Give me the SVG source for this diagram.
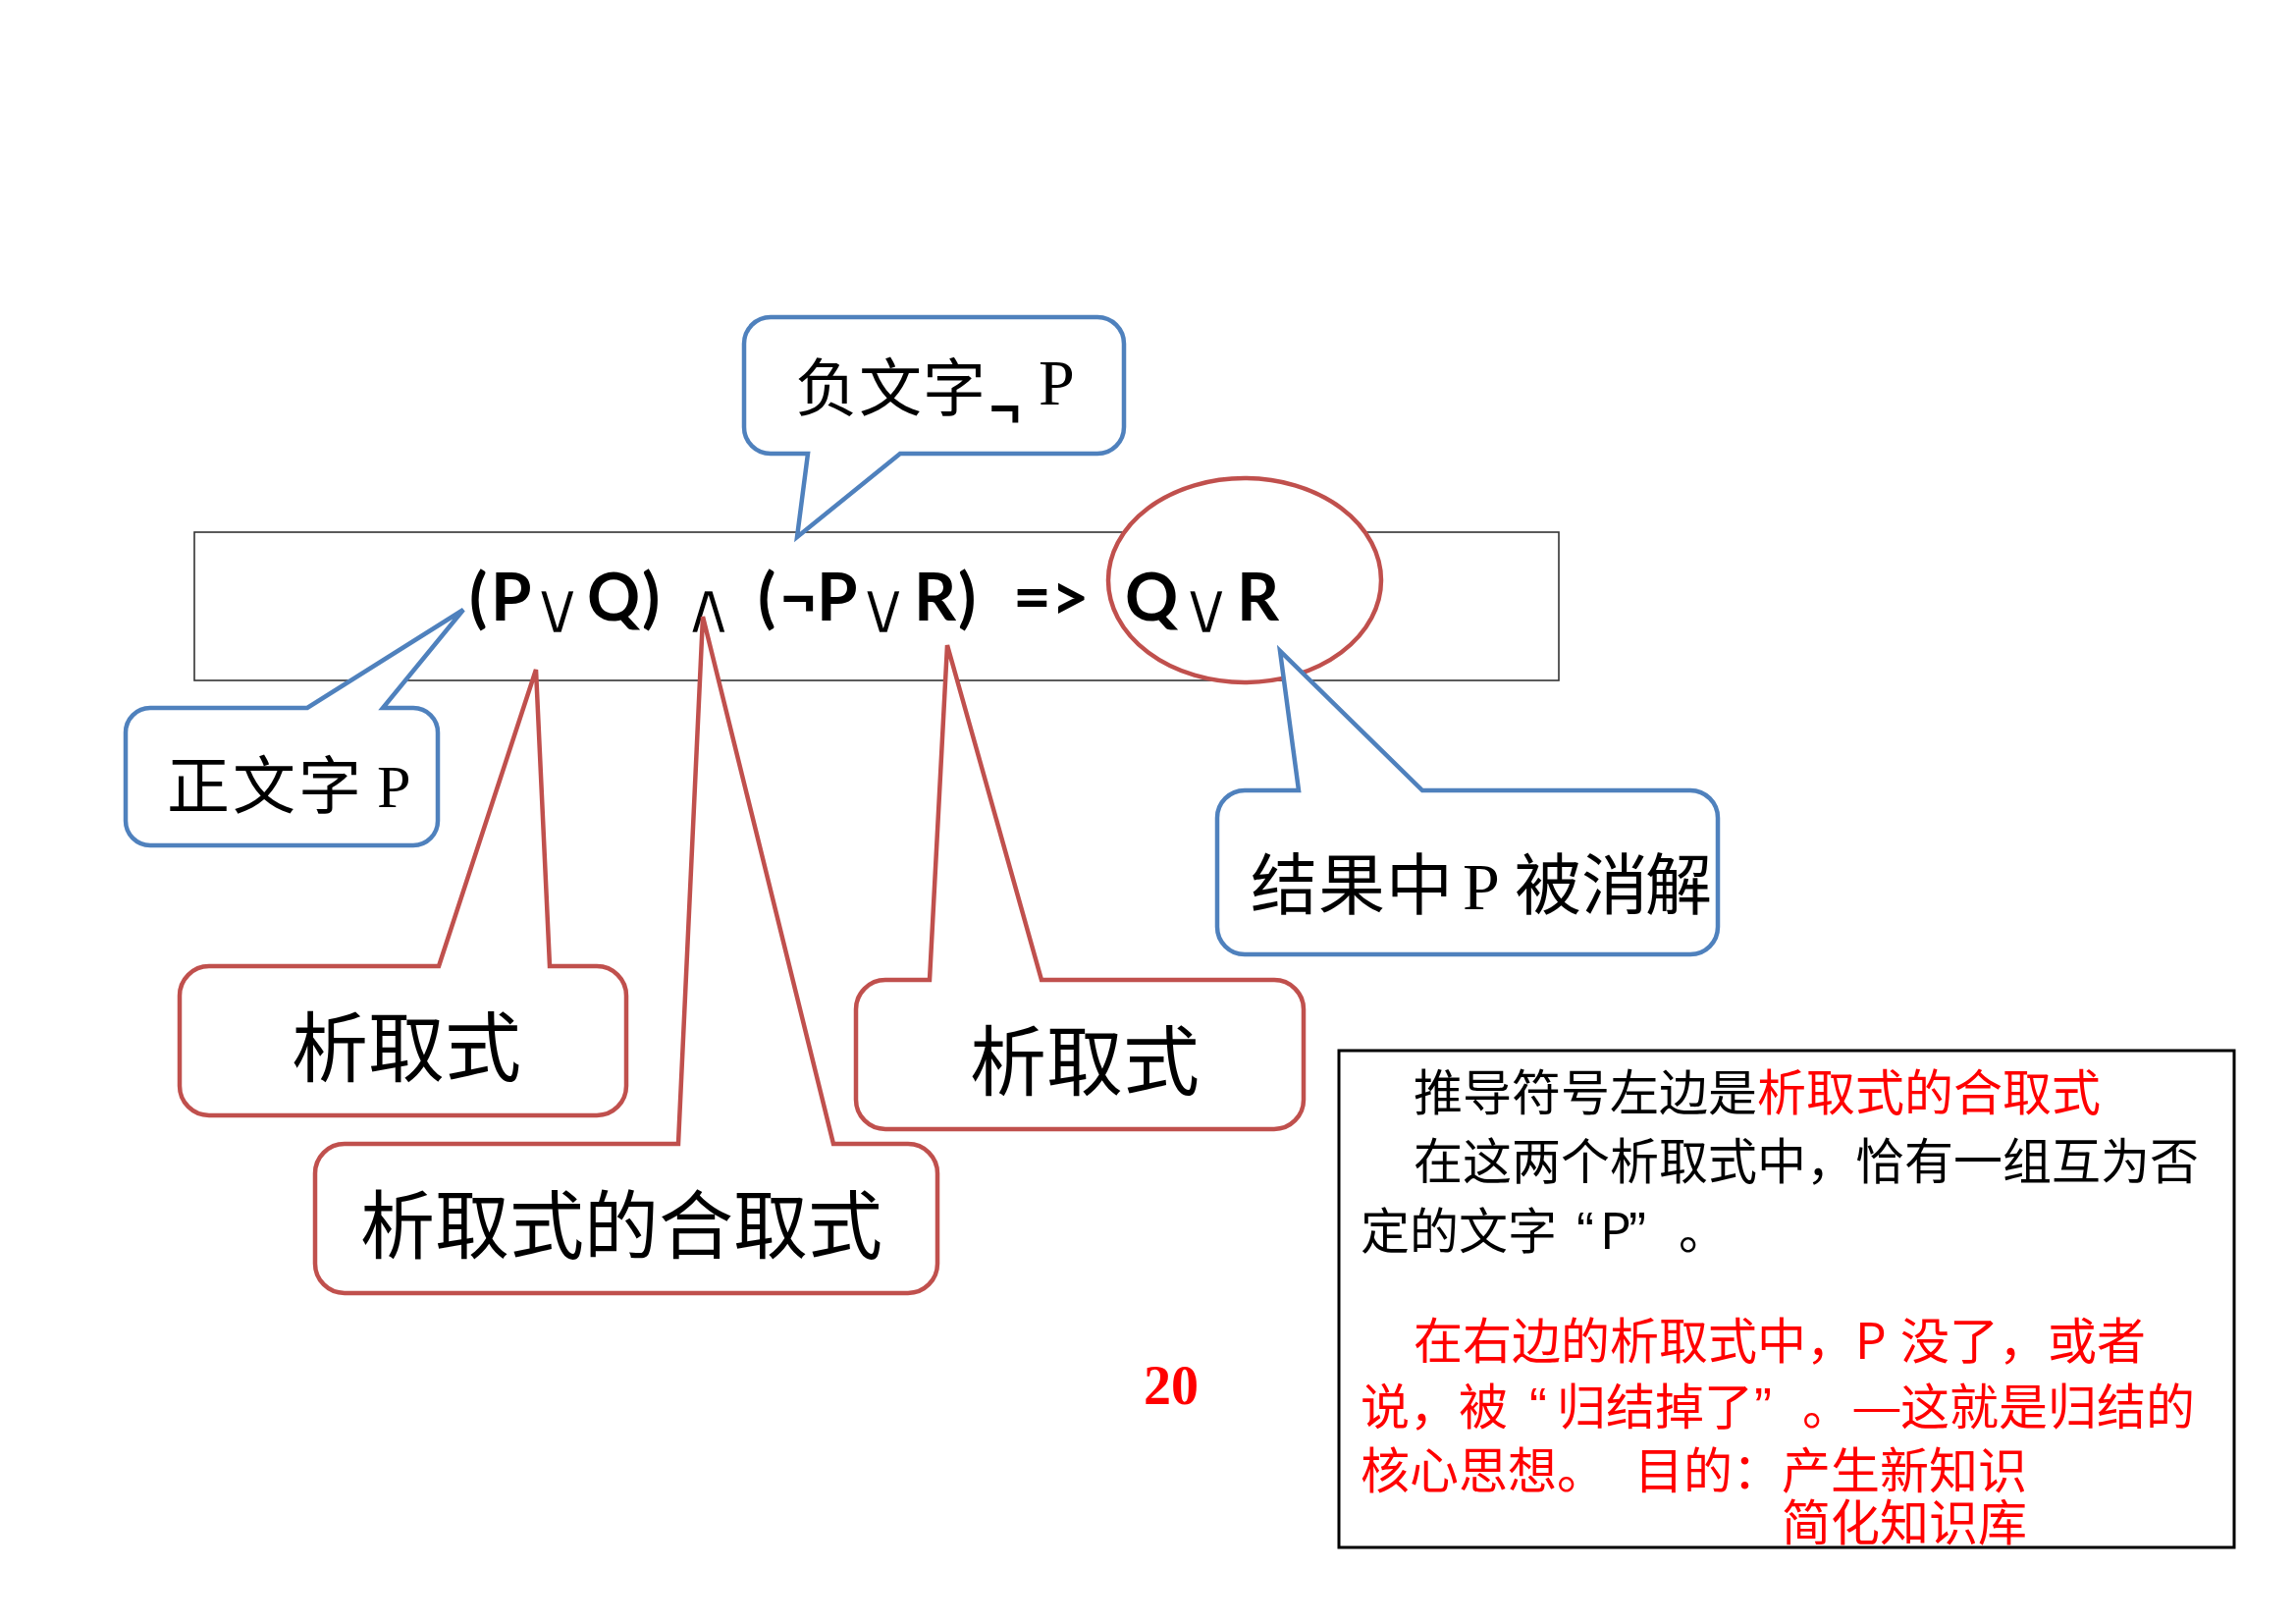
<svg xmlns="http://www.w3.org/2000/svg" width="2339" height="1654" viewBox="0 0 2339 1654">
<style>
.bg{fill:#ffffff}
.frame{fill:none;stroke:#333333;stroke-width:1.6}
.blue{fill:#ffffff;stroke:#4F81BD;stroke-width:4.5;stroke-linejoin:miter}
.red{fill:#ffffff;stroke:#C0504D;stroke-width:4.5;stroke-linejoin:miter}
.formula{font-family:Lato,"Open Sans","Liberation Sans",sans-serif;font-weight:700;font-size:67px;fill:#000}
.op{font-family:"DejaVu Sans",sans-serif;font-weight:normal;font-size:76px;fill:#000;stroke:#ffffff;stroke-width:2.4}
.lbl{font-family:"Liberation Serif","Noto Sans CJK SC",serif;fill:#000}
.cjk{font-family:"Noto Sans CJK SC","Liberation Sans",sans-serif}
.note{font-family:"Noto Sans CJK SC","Liberation Sans",sans-serif;font-size:50px;fill:#000}
.q{font-family:"Liberation Sans",sans-serif}
.r{fill:#FF0000}
.num{font-family:"Liberation Serif",serif;font-weight:700;font-size:56px;fill:#FF0000}
</style>
<rect class="bg" x="0" y="0" width="2339" height="1654"/>

<g id="formula-box">
<rect class="frame" x="198" y="542" width="1390" height="151"/>
</g>

<g id="resolvent-ellipse">
<ellipse cx="1268" cy="591" rx="139" ry="104" fill="#ffffff" stroke="#C0504D" stroke-width="4.5"/>
</g>

<g id="formula">
<text class="formula" y="632"><tspan x="478">(</tspan><tspan x="500">P</tspan><tspan x="598">Q</tspan><tspan x="654">)</tspan><tspan x="772">(</tspan><tspan x="794">¬</tspan><tspan x="832">P</tspan><tspan x="931">R</tspan><tspan x="976">)</tspan><tspan x="1032">=&gt;</tspan><tspan x="1146">Q</tspan><tspan x="1260">R</tspan></text>
<text class="op" y="645"><tspan x="540">∨</tspan><tspan x="694">∧</tspan><tspan x="872">∨</tspan><tspan x="1201">∨</tspan></text>
</g>

<g id="connectors">
</g>

<g id="callout-negative-literal">
<path class="blue" d="M785,323 H1118 A27,27 0 0 1 1145,350 V435 A27,27 0 0 1 1118,462 H917 L812,547 L823,462 H785 A27,27 0 0 1 758,435 V350 A27,27 0 0 1 785,323 Z"/>
<text class="lbl" font-size="64"><tspan class="cjk" x="810 875 940" y="418">负文字</tspan><tspan class="q" font-weight="700" font-size="54" x="1008" y="434">¬</tspan><tspan font-size="66" x="1058" y="412">P</tspan></text>
</g>

<g id="callout-positive-literal">
<path class="blue" d="M153,721 H313 L472,621 L390,721 H421 A25,25 0 0 1 446,746 V836 A25,25 0 0 1 421,861 H153 A25,25 0 0 1 128,836 V746 A25,25 0 0 1 153,721 Z"/>
<text class="lbl" font-size="64"><tspan class="cjk" x="170 237 304" y="823">正文字</tspan><tspan font-size="62" x="384" y="822">P</tspan></text>
</g>

<g id="callout-clause-left">
<path class="red" d="M213,984 H447 L546,682 L560,984 H608 A30,30 0 0 1 638,1014 V1106 A30,30 0 0 1 608,1136 H213 A30,30 0 0 1 183,1106 V1014 A30,30 0 0 1 213,984 Z"/>
<text class="lbl cjk" font-size="78" x="297 375 453" y="1096">析取式</text>
</g>

<g id="callout-conjunction">
<path class="red" d="M351,1165 H691 L716,628 L849,1165 H925 A30,30 0 0 1 955,1195 V1287 A30,30 0 0 1 925,1317 H351 A30,30 0 0 1 321,1287 V1195 A30,30 0 0 1 351,1165 Z"/>
<text class="lbl cjk" font-size="76" x="367 443 519 595 671 747 823" y="1276">析取式的合取式</text>
</g>

<g id="callout-clause-right">
<path class="red" d="M902,998 H947 L965,657 L1061,998 H1298 A30,30 0 0 1 1328,1028 V1120 A30,30 0 0 1 1298,1150 H902 A30,30 0 0 1 872,1120 V1028 A30,30 0 0 1 902,998 Z"/>
<text class="lbl cjk" font-size="78" x="988 1066 1144" y="1110">析取式</text>
</g>

<g id="callout-resolved">
<path class="blue" d="M1268,805 H1323 L1304,663 L1449,805 H1722 A28,28 0 0 1 1750,833 V944 A28,28 0 0 1 1722,972 H1268 A28,28 0 0 1 1240,944 V833 A28,28 0 0 1 1268,805 Z"/>
<text class="lbl" font-size="68"><tspan class="cjk" x="1274 1343 1412" y="926">结果中</tspan><tspan x="1490" y="926">P</tspan><tspan class="cjk" x="1543 1611 1676" y="926">被消解</tspan></text>
</g>

<g id="page-number">
<text class="num" x="1165" y="1430">20</text>
</g>

<g id="explanation">
<rect x="1364" y="1070" width="912" height="506" fill="none" stroke="#000" stroke-width="3"/>
<text class="note" y="1131"><tspan x="1440 1490 1540 1590 1640 1690 1740">推导符号左边是</tspan><tspan class="r" x="1790 1840 1890 1940 1990 2040 2090">析取式的合取式</tspan></text>
<text class="note" y="1201" x="1440 1490 1540 1590 1640 1690 1740 1790 1840 1890 1940 1990 2040 2090 2140 2190">在这两个析取式中，恰有一组互为否</text>
<text class="note" y="1272"><tspan x="1386 1436 1486 1536">定的文字</tspan><tspan class="q" font-size="54" x="1606">“</tspan><tspan x="1630">P</tspan><tspan class="q" font-size="54" x="1659">”</tspan><tspan x="1710">。</tspan></text>
<text class="note r" y="1384"><tspan x="1440 1490 1540 1590 1640 1690 1740 1790 1840">在右边的析取式中，</tspan><tspan x="1890">P</tspan><tspan x="1936 1986 2036 2086 2136">没了，或者</tspan></text>
<text class="note r" y="1451"><tspan x="1386 1436 1486">说，被</tspan><tspan class="q" font-size="54" x="1558">“</tspan><tspan x="1586 1636 1686 1736">归结掉了</tspan><tspan class="q" font-size="54" x="1787">”</tspan><tspan x="1836">。</tspan><tspan x="1886" textLength="52" lengthAdjust="spacingAndGlyphs">—</tspan><tspan x="1936 1986 2036 2086 2136 2186">这就是归结的</tspan></text>
<text class="note r" y="1516"><tspan x="1386 1436 1486 1536 1586">核心思想。</tspan><tspan x="1665 1715 1765 1815 1865 1915 1965 2015">目的：产生新知识</tspan></text>
<text class="note r" y="1569" x="1815 1865 1915 1965 2015">简化知识库</text>
</g>
</svg>
